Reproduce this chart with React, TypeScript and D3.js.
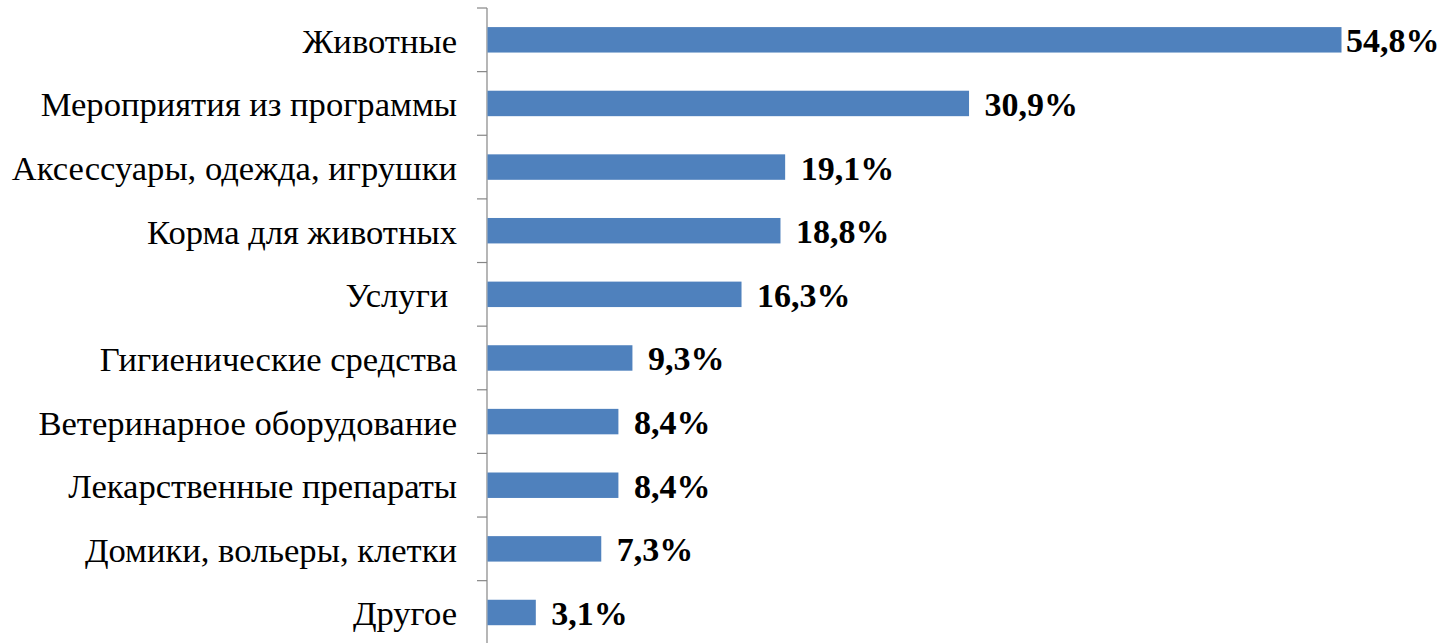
import React from "react";
import * as d3 from "d3";

const categories = [
  "Животные",
  "Мероприятия из программы",
  "Аксессуары, одежда, игрушки",
  "Корма для животных",
  "Услуги ",
  "Гигиенические средства",
  "Ветеринарное оборудование",
  "Лекарственные препараты",
  "Домики, вольеры, клетки",
  "Другое",
];
const values = [54.8, 30.9, 19.1, 18.8, 16.3, 9.3, 8.4, 8.4, 7.3, 3.1];
const valueLabels = ["54,8%", "30,9%", "19,1%", "18,8%", "16,3%", "9,3%", "8,4%", "8,4%", "7,3%", "3,1%"];

const W = 1447;
const H = 643;
const axisX = 487;
const top = 8;
const bandH = 63.63;

export default function App() {
  const x = d3.scaleLinear().domain([0, 54.8]).range([axisX, 1341]);
  const y = d3
    .scaleBand<string>()
    .domain(categories)
    .range([top, top + bandH * categories.length])
    .paddingInner(0.6)
    .paddingOuter(0.3);
  const ticks = d3.range(categories.length + 1).map((i) => top + i * bandH);
  return (
    <svg
      width={W}
      height={H}
      style={{ position: "absolute", left: 0, top: 0, background: "#fff" }}
      fontFamily="'Liberation Serif', 'Times New Roman', serif"
    >
      <line x1={axisX} x2={axisX} y1={top} y2={H + 5} stroke="#868686" strokeWidth={1.2} />
      {ticks.map((t, i) => (
        <line key={i} x1={axisX - 10} x2={axisX} y1={t} y2={t} stroke="#868686" strokeWidth={1.2} />
      ))}
      {categories.map((c, i) => {
        const by = y(c)!;
        const bh = y.bandwidth();
        const cy = by + bh / 2;
        const lx = Math.min(x(values[i]) + 16, 1346);
        return (
          <g key={c}>
            <rect x={x(0) + 0.5} y={by} width={x(values[i]) - x(0)} height={bh} fill="#4F81BD" />
            <text
              x={axisX - 30}
              y={cy + 1}
              textAnchor="end"
              dominantBaseline="central"
              fontSize={34.6}
              fill="#000"
              style={{ whiteSpace: "pre" }}
            >
              {c}
            </text>
            <text
              x={lx}
              y={cy + 1}
              dominantBaseline="central"
              fontSize={34}
              fontWeight="bold"
              fill="#000"
            >
              {valueLabels[i]}
            </text>
          </g>
        );
      })}
    </svg>
  );
}
